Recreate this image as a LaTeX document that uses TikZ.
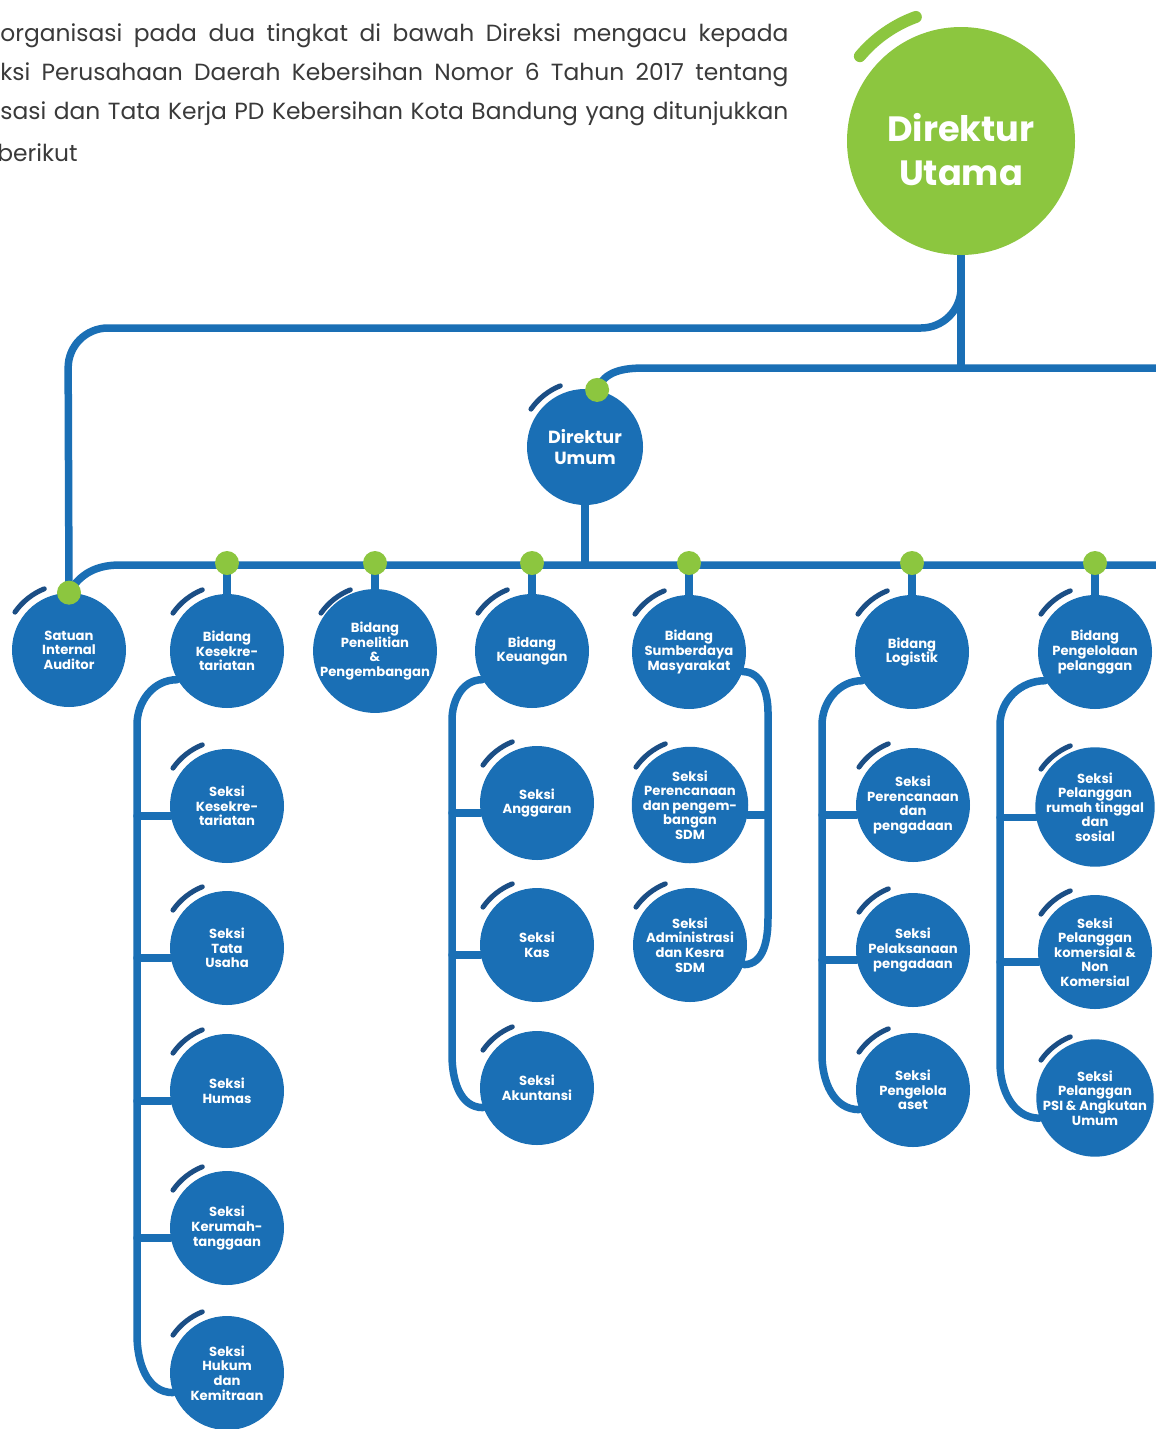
\documentclass[tikz,border=0pt]{standalone}
\usepackage{fontspec}
\setmainfont{Poppins}

\definecolor{biru}{HTML}{1A6FB5}
\definecolor{birutua}{HTML}{1B4E85}
\definecolor{hijau}{HTML}{8CC63F}
\definecolor{abu}{HTML}{3A3A3A}

\tikzset{
	bulat/.style={circle, fill=biru, minimum size=22.8mm, inner sep=0pt, text=white, align=center, font=\fontsize{7.5}{8.3}\selectfont\bfseries},
	titik/.style={circle, fill=hijau, minimum size=4.8mm, inner sep=0pt},
	garis/.style={draw=biru, line width=1.5mm, line cap=round},
	hias/.style={draw=birutua, line width=1mm, line cap=round},
	baris/.style={anchor=base west, inner sep=0pt, text=abu, font=\fontsize{13.3}{15}\selectfont},
}

\newcommand{\hiasan}[1]{\draw[hias] (#1.center) ++(112:66) arc[start angle=112, end angle=145, radius=66];}

\begin{document}
\begin{tikzpicture}[x=0.2mm, y=0.2mm]
	
	\pgfdeclarelayer{bg}
	\pgfsetlayers{bg,main}
	
	\useasboundingbox (0,0) rectangle (1156,-1429);
	
	\node[baris] (baris1) at (0,-41) {\makebox[157.6mm][s]{organisasi pada dua tingkat di bawah Direksi mengacu kepada}};
	\node[baris] (baris2) at (0,-80) {\makebox[157.6mm][s]{ksi Perusahaan Daerah Kebersihan Nomor 6 Tahun 2017 tentang}};
	\node[baris] (baris3) at (0,-119) {\makebox[157.6mm][s]{sasi dan Tata Kerja PD Kebersihan Kota Bandung yang ditunjukkan}};
	\node[baris] (baris4) at (-3,-161) {berikut};
	
	\node[circle, fill=hijau, minimum size=45.6mm, inner sep=0pt] (dirut) at (961,-141) {};
	\node[text=white, align=center, font=\fontsize{20}{25}\selectfont\bfseries] (dirutteks) at (961,-150) {Direktur\\Utama};
	\draw[hias, draw=hijau, line width=2.4mm] (dirut.center) ++(110:132) arc[start angle=110, end angle=140, radius=132];
	
	\node[bulat, minimum size=23.2mm, font=\fontsize{10}{12.5}\selectfont\bfseries] (dirum) at (585,-447) {Direktur\\Umum};
	\node[titik] (tdirum) at (dirum.78) {};
	
	\node[bulat] (satuan) at (69,-650) {Satuan\\Internal\\Auditor};
	\node[bulat] (sekr) at (227,-651) {Bidang\\Kesekre-\\tariatan};
	\node[bulat] (litbang) at (375,-651) {Bidang\\Penelitian\\\&\\Pengembangan};
	\node[bulat] (keu) at (532,-651) {Bidang\\Keuangan};
	\node[bulat] (sdm) at (689,-652) {Bidang\\Sumberdaya\\Masyarakat};
	\node[bulat] (log) at (912,-652) {Bidang\\Logistik};
	\node[bulat] (plg) at (1095,-652) {Bidang\\Pengelolaan\\pelanggan};
	
	\node[titik] (tsatuan) at (satuan.north) {};
	\node[titik] (tsekr) at (227,-563) {};
	\node[titik] (tlitbang) at (375,-563) {};
	\node[titik] (tkeu) at (532,-563) {};
	\node[titik] (tsdm) at (689,-563) {};
	\node[titik] (tlog) at (912,-563) {};
	\node[titik] (tplg) at (1095,-563) {};
	
	\node[bulat] (sSekr) at (227,-806) {Seksi\\Kesekre-\\tariatan};
	\node[bulat] (sTU) at (227,-948) {Seksi\\Tata\\Usaha};
	\node[bulat] (sHumas) at (227,-1091) {Seksi\\Humas};
	\node[bulat] (sRT) at (227,-1228) {Seksi\\Kerumah-\\tanggaan};
	\node[bulat] (sHukum) at (227,-1373) {Seksi\\Hukum\\dan\\Kemitraan};
	
	\node[bulat] (sAng) at (537,-803) {Seksi\\Anggaran};
	\node[bulat] (sKas) at (537,-945) {Seksi\\Kas};
	\node[bulat] (sAkun) at (537,-1088) {Seksi\\Akuntansi};
	
	\node[bulat] (sPSDM) at (690,-805) {Seksi\\Perencanaan\\dan pengem-\\bangan\\SDM};
	\node[bulat] (sAdm) at (690,-945) {Seksi\\Administrasi\\dan Kesra\\SDM};
	
	\node[bulat] (sPP) at (913,-805) {Seksi\\Perencanaan\\dan\\pengadaan};
	\node[bulat] (sPel) at (913,-950) {Seksi\\Pelaksanaan\\pengadaan};
	\node[bulat] (sAset) at (913,-1090) {Seksi\\Pengelola\\aset};
	
	\node[bulat] (sRumah) at (1095,-807) {Seksi\\Pelanggan\\rumah tinggal\\dan\\sosial};
	\node[bulat] (sKom) at (1095,-952) {Seksi\\Pelanggan\\komersial \&\\Non\\Komersial};
	\node[bulat] (sPSI) at (1095,-1098) {Seksi\\Pelanggan\\PSI \& Angkutan\\Umum};
	
	\foreach \n in {dirum,satuan,sekr,litbang,keu,sdm,log,plg,sSekr,sTU,sHumas,sRT,sHukum,sAng,sKas,sAkun,sPSDM,sAdm,sPP,sPel,sAset,sRumah,sKom,sPSI}{
		\hiasan{\n}
	}
	
	\coordinate (cabang) at (961,-285);
	\coordinate (kanan1) at (1170,-368);
	\coordinate (belok1) at (645,-368);
	\coordinate (kanan2) at (1170,-565);
	\coordinate (belok2) at (120,-565);
	\coordinate (tA) at (137,-725);
	\coordinate (tB) at (452,-720);
	\coordinate (tC) at (768,-712);
	\coordinate (tD) at (822,-725);
	\coordinate (tE) at (1000,-725);
	
	\begin{pgfonlayer}{bg}
	
		\fill[white] (0,0) rectangle (1156,-1429);
		
		\draw[garis] (dirut.south) -- (dirut.south |- kanan1);
		\draw[garis, rounded corners=8mm] (cabang) -- (961,-328) -- (68,-328) -- (tsatuan.center);
		\draw[garis] (tdirum.center) to[out=70,in=180] (belok1) -- (kanan1);
		
		\draw[garis] (dirum.south) -- (dirum.south |- kanan2);
		\draw[garis] (kanan2) -- (belok2) to[out=180,in=60] (tsatuan.center);
		
		\draw[garis] (tsekr.center) -- (sekr.north);
		\draw[garis] (tlitbang.center) -- (litbang.north);
		\draw[garis] (tkeu.center) -- (keu.north);
		\draw[garis] (tsdm.center) -- (sdm.north);
		\draw[garis] (tlog.center) -- (log.north);
		\draw[garis] (tplg.center) -- (plg.north);
		
		\draw[garis] (sekr.210) to[out=180,in=90] (tA) -- (137,-1335) to[out=-90,in=180] (sHukum.200);
		\draw[garis] (sSekr.190 -| tA) -- (sSekr.190);
		\draw[garis] (sTU.190 -| tA) -- (sTU.190);
		\draw[garis] (sHumas.190 -| tA) -- (sHumas.190);
		\draw[garis] (sRT.190 -| tA) -- (sRT.190);
		
		\draw[garis] (keu.210) to[out=180,in=90] (tB) -- (452,-1055) to[out=-90,in=180] (sAkun.200);
		\draw[garis] (sAng.190 -| tB) -- (sAng.190);
		\draw[garis] (sKas.190 -| tB) -- (sKas.190);
		
		\draw[garis] (sdm.-20) to[out=0,in=90] (tC) -- (768,-918) to[out=-90,in=0] (sAdm.-20);
		\draw[garis] (sPSDM.-10 -| tC) -- (sPSDM.-10);
		
		\draw[garis] (log.210) to[out=180,in=90] (tD) -- (822,-1055) to[out=-90,in=180] (sAset.200);
		\draw[garis] (sPP.190 -| tD) -- (sPP.190);
		\draw[garis] (sPel.190 -| tD) -- (sPel.190);
		
		\draw[garis] (plg.210) to[out=180,in=90] (tE) -- (1000,-1063) to[out=-90,in=180] (sPSI.200);
		\draw[garis] (sRumah.190 -| tE) -- (sRumah.190);
		\draw[garis] (sKom.190 -| tE) -- (sKom.190);
	
	\end{pgfonlayer}
	
\end{tikzpicture}
\end{document}
